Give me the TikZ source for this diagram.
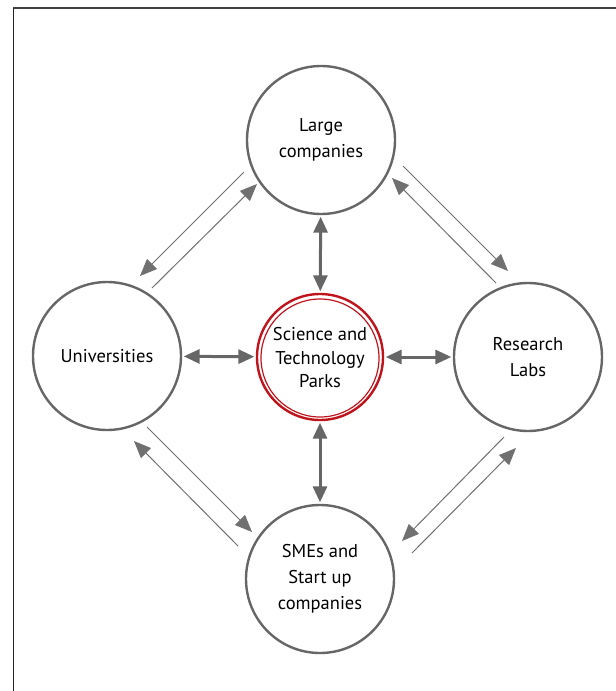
\documentclass[tikz,border=0pt]{standalone}
\usepackage{fontspec}
\setmainfont{PT Sans}
\usetikzlibrary{arrows.meta}
\definecolor{cgray}{HTML}{666666}
\definecolor{lgray}{HTML}{707070}
\definecolor{pred}{HTML}{C0141C}
\tikzset{
  bubble/.style={circle, draw=cgray, line width=2.4pt, minimum size=148pt, inner sep=0pt, align=center, font=\fontsize{18.5}{26}\selectfont},
  thickarr/.style={draw=cgray, line width=3pt, {Triangle[length=16pt,width=14pt]}-{Triangle[length=16pt,width=14pt]}, shorten <=1.5pt, shorten >=1.5pt},
  thinarr/.style={draw=lgray, line width=1pt, -{Triangle[length=17pt,width=14pt]}}
}
\begin{document}
\begin{tikzpicture}[x=1pt,y=-1pt]
\useasboundingbox (0,0) rectangle (616,691);
\draw[line width=1.2pt, color=black!75] (13,8) -- (616,8);
\draw[line width=1pt, color=black!85] (13,8) -- (13,691);

\node[bubble] (lc) at (321,140) {Large\\companies};
\node[bubble] (uni) at (107,356) {Universities};
\node[bubble] (rl) at (528,357) {Research\\Labs};
\node[bubble] (sme) at (320,579) {SMEs and\\Start up\\companies};

\node[circle, draw=pred, line width=2.4pt, minimum size=126pt, inner sep=0pt] (stp) at (320,357) {};
\node[circle, draw=pred, line width=1.2pt, minimum size=118pt, inner sep=0pt, align=center, font=\fontsize{18.5}{23.5}\selectfont] (stpin) at (320,358) {Science and\\Technology\\Parks};

\draw[thickarr] (lc) -- (stp);
\draw[thickarr] (sme) -- (stp);
\draw[thickarr] (uni) -- (stp);
\draw[thickarr] (rl) -- (stp);

\coordinate (a1s) at (244,172); \coordinate (a1e) at (140,276);
\coordinate (a2s) at (152,288); \coordinate (a2e) at (257,184);
\coordinate (b1s) at (403,166); \coordinate (b1e) at (508,271);
\coordinate (b2s) at (496,283); \coordinate (b2e) at (392,178);
\coordinate (c1s) at (147,427); \coordinate (c1e) at (252,532);
\coordinate (c2s) at (238,546); \coordinate (c2e) at (134,441);
\coordinate (d1s) at (504,437); \coordinate (d1e) at (402,541);
\coordinate (d2s) at (412,553); \coordinate (d2e) at (516,448);

\draw[thinarr] (a1s) -- (a1e);
\draw[thinarr] (a2s) -- (a2e);
\draw[thinarr] (b1s) -- (b1e);
\draw[thinarr] (b2s) -- (b2e);
\draw[thinarr] (c1s) -- (c1e);
\draw[thinarr] (c2s) -- (c2e);
\draw[thinarr] (d1s) -- (d1e);
\draw[thinarr] (d2s) -- (d2e);
\end{tikzpicture}
\end{document}
